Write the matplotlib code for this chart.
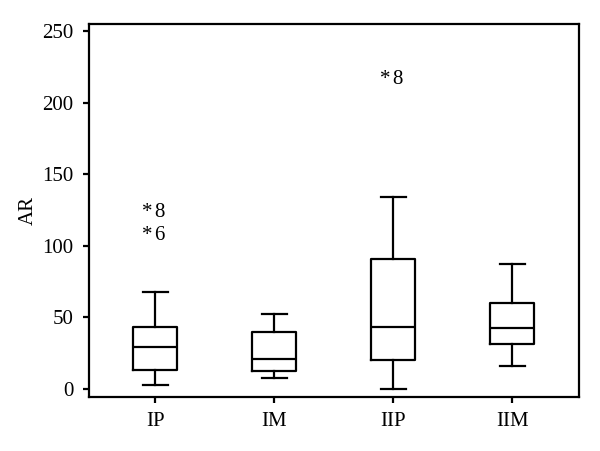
import matplotlib
matplotlib.use("Agg")
import matplotlib.pyplot as plt

groups = ["IP", "IM", "IIP", "IIM"]
whis_lo = [2.8, 7.9, 0.0, 16.3]
q1 = [13.3, 12.6, 20.3, 31.4]
med = [29.5, 21.2, 43.5, 42.4]
q3 = [43.5, 39.8, 90.6, 60.3]
whis_hi = [68.0, 52.4, 134.3, 87.0]
# outliers: (group index, value, case label)
out_group = [0, 0, 2]
out_value = [125, 109, 218]
out_label = ["8", "6", "8"]

plt.rcParams["font.family"] = ["Liberation Serif", "DejaVu Serif"]
plt.rcParams["font.size"] = 15

fig = plt.figure(figsize=(6, 4.51), dpi=100)
ax = fig.add_axes([0.148, 0.120, 0.817, 0.827])

stats = []
for i in range(len(groups)):
	stats.append({"whislo": whis_lo[i], "q1": q1[i], "med": med[i], "q3": q3[i],
		"whishi": whis_hi[i], "fliers": [], "label": groups[i]})

lw = 1.6
ax.bxp(stats, positions=range(1, 5), widths=0.37, showfliers=False,
	boxprops=dict(color="black", linewidth=lw),
	medianprops=dict(color="black", linewidth=lw),
	whiskerprops=dict(color="black", linewidth=lw),
	capprops=dict(color="black", linewidth=lw),
	capwidths=0.21)

# SPSS style extreme values: asterisk plus case number
for g, v, lab in zip(out_group, out_value, out_label):
	ax.text(g + 1 - 0.065, v - 4.8, "*", ha="center", va="baseline", fontsize=15)
	ax.text(g + 1 + 0.03, v - 4.8, lab, ha="center", va="baseline", fontsize=15)

ax.set_xlim(0.44, 4.56)
ax.set_ylim(-5.6, 255)
ax.set_yticks([0, 50, 100, 150, 200, 250])
ax.set_ylabel("AR", labelpad=3)
for s in ax.spines.values():
	s.set_linewidth(1.6)
ax.tick_params(direction="out", length=4, width=1.6)
ax.tick_params(axis="x", pad=7)
ax.tick_params(axis="y", pad=7)

fig.savefig("out.png", dpi=100)
